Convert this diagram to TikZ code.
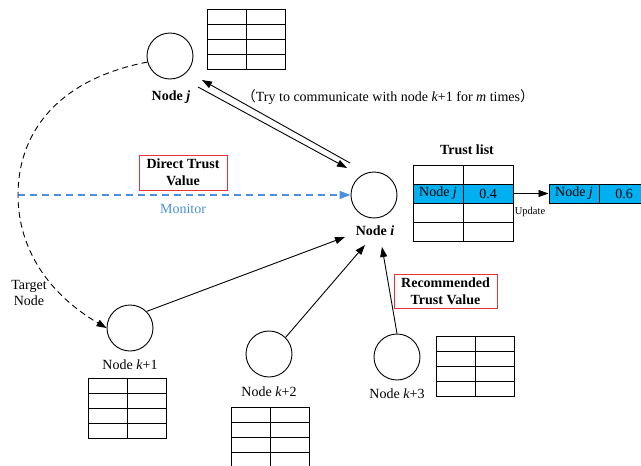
\documentclass[tikz,border=0pt]{standalone}
\usepackage{fontspec}
\setmainfont{Liberation Serif}
\newfontfamily\cjk{Noto Sans CJK SC}
\usetikzlibrary{arrows.meta}
\definecolor{cyanfill}{RGB}{0,176,240}
\definecolor{monblue}{RGB}{74,144,220}
\definecolor{boxred}{RGB}{235,50,50}
\begin{document}
\begin{tikzpicture}[x=1pt,y=-1pt,
  font=\fontsize{14}{16.5}\selectfont,
  nd/.style={circle,draw,line width=0.9pt,minimum size=46pt,inner sep=0pt},
  tri/.style={-{Triangle[length=10pt,width=7pt]}},
  conn/.style={line width=0.9pt,tri},
  tl/.style={line width=1pt},
  rbox/.style={draw=boxred,line width=1pt,align=center,font=\fontsize{14}{17}\selectfont\bfseries,inner sep=0pt},
  cell/.style={draw,line width=1pt,fill=cyanfill,minimum height=19pt,minimum width=50pt,inner sep=0pt},
  tbl/.pic={\draw[tl] (0,0) rectangle (78,60); \draw[tl] (39,0)--(39,60);
            \foreach \r in {15,30,45}{\draw[tl] (0,\r)--(78,\r);}}
]
\useasboundingbox (0,0) rectangle (641,466);

% nodes
\node[nd] (j) at (170,56) {};
\node (lj) at (171,97) {\bfseries Node \textit{j}};
\node[nd] (i) at (374,195) {};
\node (li) at (375,231) {\bfseries Node \textit{i}};
\node[nd] (k1) at (130,328) {};
\node (lk1) at (130,365) {Node \textit{k}+1};
\node[nd] (k2) at (269,354) {};
\node (lk2) at (269,392) {Node \textit{k}+2};
\node[nd] (k3) at (397,357) {};
\node (lk3) at (397,394) {Node \textit{k}+3};

% tables
\pic at (207,9) {tbl};
\pic at (88,378) {tbl};
\pic at (231,407) {tbl};
\pic at (436,336) {tbl};

% j <-> i double lines
\coordinate (a1s) at (350,163); \coordinate (a1e) at (202,80);
\coordinate (a2s) at (198,87);  \coordinate (a2e) at (347,168);
\draw[conn] (a1s) -- (a1e);
\draw[conn] (a2s) -- (a2e);
\node (try) at (388,97) {{\cjk （}Try to communicate with node \textit{k}+1 for \textit{m} times{\cjk ）}};

% monitor
\coordinate (m0) at (18,195);
\draw[line width=1.1pt,monblue,dash pattern=on 7pt off 5pt,-{Triangle[length=11pt,width=8pt]}] (m0) -- (i.west);
\node[text=monblue] (mon) at (183,209) {Monitor};
\node[rbox,minimum width=88pt,minimum height=35pt] (dtv) at (183,172.5) {Direct Trust\\Value};

% target curve
\draw[conn,dash pattern=on 6pt off 4pt] (j.195) .. controls (55,80) and (18,135) .. (m0)
   .. controls (18,250) and (50,295) .. (k1.west);
\node[align=center] (tgt) at (29,293) {Target\\Node};

% recommendation connectors
\coordinate (e1) at (345,237);
\coordinate (e2) at (365,245);
\coordinate (e3) at (382,247);
\draw[conn] (k1.45) -- (e1);
\draw[conn] (k2.45) -- (e2);
\draw[conn] (k3.north) -- (e3);
\node[rbox,minimum width=103pt,minimum height=34pt] (rtv) at (445.5,291) {Recommended\\Trust Value};

% trust list
\node (tlt) at (467,150) {\bfseries Trust list};
\draw[tl] (413,165) rectangle (513,241);
\draw[tl] (463,165) -- (463,241);
\foreach \r in {184,203,222}{\draw[tl] (413,\r) -- (513,\r);}
\node[cell] (c1) at (438,193.5) {Node \textit{j}};
\node[cell] (c2) at (488,193.5) {0.4};
\node[cell] (d1) at (574,193.5) {Node \textit{j}};
\node[cell] (d2) at (624,193.5) {0.6};
\draw[conn] (c2.east) -- (d1.west);
\node[font=\fontsize{10.5}{12}\selectfont] (upd) at (530,212) {Update};
\end{tikzpicture}
\end{document}
